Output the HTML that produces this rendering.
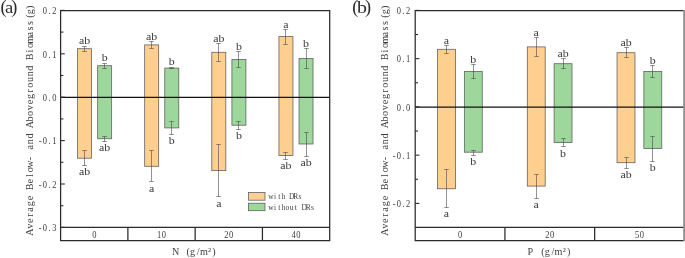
<!DOCTYPE html><html><head><meta charset="utf-8"><title>Figure</title><style>
html,body{margin:0;padding:0;background:#fff}svg{display:block;will-change:transform}
.m{font-family:"Liberation Serif","DejaVu Serif",serif;text-anchor:middle}
.s{font-family:"Liberation Serif","DejaVu Serif",serif;font-size:11px;text-anchor:middle;fill:#3a3a3a}
.L{font-family:"Liberation Serif","DejaVu Serif",serif;fill:#2a2a2a}
</style></head><body>
<svg width="685" height="258" viewBox="0 0 685 258">
<rect width="685" height="258" fill="#fff"/>
<rect x="77.55" y="48.7" width="14" height="109.5" fill="#ffcf90" stroke="#626262" stroke-width="0.8"/>
<path d="M84.5 46.5V51.5M82.2 46.5h4.6M82.2 51.5h4.6" stroke="#484848" stroke-width="0.6" fill="none"/>
<path d="M84.5 150.5V165.5M82.2 150.5h4.6M82.2 165.5h4.6" stroke="#484848" stroke-width="0.6" fill="none"/>
<text transform="translate(84.55 43.9) scale(1.08 1)" class="s">ab</text>
<text transform="translate(84.55 175.1) scale(1.08 1)" class="s">ab</text>
<rect x="97.65" y="65.7" width="14" height="73.05" fill="#9dd79c" stroke="#626262" stroke-width="0.8"/>
<path d="M104.5 63.5V68.5M102.2 63.5h4.6M102.2 68.5h4.6" stroke="#484848" stroke-width="0.6" fill="none"/>
<path d="M104.5 136.5V141.5M102.2 136.5h4.6M102.2 141.5h4.6" stroke="#484848" stroke-width="0.6" fill="none"/>
<text transform="translate(104.65 61.2) scale(1.08 1)" class="s">b</text>
<text transform="translate(104.65 151.1) scale(1.08 1)" class="s">ab</text>
<rect x="144.68" y="44.9" width="14" height="121.4" fill="#ffcf90" stroke="#626262" stroke-width="0.8"/>
<path d="M151.5 41.5V48.5M149.2 41.5h4.6M149.2 48.5h4.6" stroke="#484848" stroke-width="0.6" fill="none"/>
<path d="M151.5 150.5V181.5M149.2 150.5h4.6M149.2 181.5h4.6" stroke="#484848" stroke-width="0.6" fill="none"/>
<text transform="translate(151.68 40.2) scale(1.08 1)" class="s">ab</text>
<text transform="translate(151.68 191.5) scale(1.08 1)" class="s">a</text>
<rect x="164.78" y="68.1" width="14" height="59.8" fill="#9dd79c" stroke="#626262" stroke-width="0.8"/>
<path d="M171.5 67.5V68.5M169.2 67.5h4.6M169.2 68.5h4.6" stroke="#484848" stroke-width="0.6" fill="none"/>
<path d="M171.5 121.5V134.5M169.2 121.5h4.6M169.2 134.5h4.6" stroke="#484848" stroke-width="0.6" fill="none"/>
<text transform="translate(171.78 65.4) scale(1.08 1)" class="s">b</text>
<text transform="translate(171.78 144.1) scale(1.08 1)" class="s">b</text>
<rect x="211.81" y="52.3" width="14" height="118.3" fill="#ffcf90" stroke="#626262" stroke-width="0.8"/>
<path d="M218.5 43.5V61.5M216.2 43.5h4.6M216.2 61.5h4.6" stroke="#484848" stroke-width="0.6" fill="none"/>
<path d="M218.5 144.5V196.5M216.2 144.5h4.6M216.2 196.5h4.6" stroke="#484848" stroke-width="0.6" fill="none"/>
<text transform="translate(218.81 41.9) scale(1.08 1)" class="s">ab</text>
<text transform="translate(218.81 206.5) scale(1.08 1)" class="s">a</text>
<rect x="231.91" y="59.4" width="14" height="65.8" fill="#9dd79c" stroke="#626262" stroke-width="0.8"/>
<path d="M238.5 51.5V67.5M236.2 51.5h4.6M236.2 67.5h4.6" stroke="#484848" stroke-width="0.6" fill="none"/>
<path d="M238.5 121.5V129.5M236.2 121.5h4.6M236.2 129.5h4.6" stroke="#484848" stroke-width="0.6" fill="none"/>
<text transform="translate(238.91 49.7) scale(1.08 1)" class="s">b</text>
<text transform="translate(238.91 139.3) scale(1.08 1)" class="s">b</text>
<rect x="278.94" y="36.6" width="14" height="118.9" fill="#ffcf90" stroke="#626262" stroke-width="0.8"/>
<path d="M285.5 29.5V44.5M283.2 29.5h4.6M283.2 44.5h4.6" stroke="#484848" stroke-width="0.6" fill="none"/>
<path d="M285.5 152.5V159.5M283.2 152.5h4.6M283.2 159.5h4.6" stroke="#484848" stroke-width="0.6" fill="none"/>
<text transform="translate(285.94 27.7) scale(1.08 1)" class="s">a</text>
<text transform="translate(285.94 168.9) scale(1.08 1)" class="s">ab</text>
<rect x="299.04" y="58.4" width="14" height="85.6" fill="#9dd79c" stroke="#626262" stroke-width="0.8"/>
<path d="M306.5 48.5V68.5M304.2 48.5h4.6M304.2 68.5h4.6" stroke="#484848" stroke-width="0.6" fill="none"/>
<path d="M306.5 132.5V156.5M304.2 132.5h4.6M304.2 156.5h4.6" stroke="#484848" stroke-width="0.6" fill="none"/>
<text transform="translate(306.04 47.3) scale(1.08 1)" class="s">b</text>
<text transform="translate(306.04 165.9) scale(1.08 1)" class="s">ab</text>
<path d="M60.6 97.4H329.7" stroke="#111" stroke-width="1.1"/>
<path d="M60.6 10.6H329.7V240.5H60.6Z M60.6 227.3H329.7" stroke="#2b2b2b" stroke-width="1.25" fill="none"/>
<path d="M127.88 227.3V240.5" stroke="#2b2b2b" stroke-width="1.25"/>
<path d="M195.15 227.3V240.5" stroke="#2b2b2b" stroke-width="1.25"/>
<path d="M262.43 227.3V240.5" stroke="#2b2b2b" stroke-width="1.25"/>
<path d="M60.6 10.4h4.2" stroke="#2b2b2b" stroke-width="1.1"/>
<text transform="translate(56.6 14.1) scale(0.9 1)" x="-13.06 -7.83 -2.61" font-size="9.4" fill="#3d3d3d" class="m">0.2</text>
<path d="M60.6 53.8h4.2" stroke="#2b2b2b" stroke-width="1.1"/>
<text transform="translate(56.6 57.5) scale(0.9 1)" x="-13.06 -7.83 -2.61" font-size="9.4" fill="#3d3d3d" class="m">0.1</text>
<path d="M60.6 97.2h4.2" stroke="#2b2b2b" stroke-width="1.1"/>
<text transform="translate(56.6 100.9) scale(0.9 1)" x="-13.06 -7.83 -2.61" font-size="9.4" fill="#3d3d3d" class="m">0.0</text>
<path d="M60.6 140.6h4.2" stroke="#2b2b2b" stroke-width="1.1"/>
<text transform="translate(56.6 144.3) scale(0.9 1)" x="-18.28 -13.06 -7.83 -2.61" font-size="9.4" fill="#3d3d3d" class="m">-0.1</text>
<path d="M60.6 184h4.2" stroke="#2b2b2b" stroke-width="1.1"/>
<text transform="translate(56.6 187.7) scale(0.9 1)" x="-18.28 -13.06 -7.83 -2.61" font-size="9.4" fill="#3d3d3d" class="m">-0.2</text>
<path d="M60.6 227.4h4.2" stroke="#2b2b2b" stroke-width="1.1"/>
<text transform="translate(56.6 231.1) scale(0.9 1)" x="-18.28 -13.06 -7.83 -2.61" font-size="9.4" fill="#3d3d3d" class="m">-0.3</text>
<path d="M60.6 32.1h2.8" stroke="#2b2b2b" stroke-width="1.1"/>
<path d="M60.6 75.5h2.8" stroke="#2b2b2b" stroke-width="1.1"/>
<path d="M60.6 118.9h2.8" stroke="#2b2b2b" stroke-width="1.1"/>
<path d="M60.6 162.3h2.8" stroke="#2b2b2b" stroke-width="1.1"/>
<path d="M60.6 205.7h2.8" stroke="#2b2b2b" stroke-width="1.1"/>
<text transform="translate(94.24 237.6) scale(0.9 1)" x="0" font-size="9.4" fill="#3d3d3d" class="m">0</text>
<text transform="translate(161.51 237.6) scale(0.9 1)" x="-2.61 2.61" font-size="9.4" fill="#3d3d3d" class="m">10</text>
<text transform="translate(228.79 237.6) scale(0.9 1)" x="-2.61 2.61" font-size="9.4" fill="#3d3d3d" class="m">20</text>
<text transform="translate(296.06 237.6) scale(0.9 1)" x="-2.61 2.61" font-size="9.4" fill="#3d3d3d" class="m">40</text>
<text transform="translate(195.45 255) scale(0.9 1)" x="-21.97" font-size="11.3" fill="#3d3d3d" class="m">N</text><text transform="translate(195.45 255) scale(0.9 1)" x="-8.04 -3.14 3.14 9.42 15.69 20.59" font-size="11.3" fill="#3d3d3d" class="m">(g/m²)</text>
<text transform="translate(33.3 234.8) rotate(-90) scale(0.9 1)" x="3.14 9.42 15.69 21.97 28.25 34.53 40.81" font-size="11.3" fill="#3d3d3d" class="m">Average</text><text transform="translate(33.3 234.8) rotate(-90) scale(0.9 1)" x="53.36 59.64 65.92 72.19 78.47 84.75" font-size="11.3" fill="#3d3d3d" class="m">Below-</text><text transform="translate(33.3 234.8) rotate(-90) scale(0.9 1)" x="97.31 103.58 109.86" font-size="11.3" fill="#3d3d3d" class="m">and</text><text transform="translate(33.3 234.8) rotate(-90) scale(0.9 1)" x="122.42 128.69 134.97 141.25 147.53 153.81 160.08 166.36 172.64 178.92 185.19" font-size="11.3" fill="#3d3d3d" class="m">Aboveground</text><text transform="translate(33.3 234.8) rotate(-90) scale(0.9 1)" x="197.75 204.03 210.31 216.58 222.86 229.14 235.42 243.08 247.97 252.87" font-size="11.3" fill="#3d3d3d" class="m">Biomass(g)</text>
<text class="L"><tspan x="0.4" y="13.1" font-size="18.3" text-anchor="start">(</tspan></text>
<text class="L" transform="translate(9.2 13.2) scale(1.12 1)" font-size="16.6" text-anchor="middle">a</text>
<text class="L"><tspan x="17.4" y="13.1" font-size="18.3" text-anchor="end">)</tspan></text>
<rect x="437.55" y="49.3" width="17.9" height="139.45" fill="#ffcf90" stroke="#626262" stroke-width="0.8"/>
<path d="M446.5 45.5V53.5M444.2 45.5h4.6M444.2 53.5h4.6" stroke="#484848" stroke-width="0.6" fill="none"/>
<path d="M446.5 169.5V207.5M444.2 169.5h4.6M444.2 207.5h4.6" stroke="#484848" stroke-width="0.6" fill="none"/>
<text transform="translate(446.5 43.7) scale(1.08 1)" class="s">a</text>
<text transform="translate(446.5 217.3) scale(1.08 1)" class="s">a</text>
<rect x="464.35" y="71.5" width="17.9" height="80.7" fill="#9dd79c" stroke="#626262" stroke-width="0.8"/>
<path d="M473.5 64.5V78.5M471.2 64.5h4.6M471.2 78.5h4.6" stroke="#484848" stroke-width="0.6" fill="none"/>
<path d="M473.5 150.5V155.5M471.2 150.5h4.6M471.2 155.5h4.6" stroke="#484848" stroke-width="0.6" fill="none"/>
<text transform="translate(473.3 62.7) scale(1.08 1)" class="s">b</text>
<text transform="translate(473.3 165.2) scale(1.08 1)" class="s">b</text>
<rect x="527.3" y="46.9" width="17.9" height="139.2" fill="#ffcf90" stroke="#626262" stroke-width="0.8"/>
<path d="M536.5 37.5V56.5M534.2 37.5h4.6M534.2 56.5h4.6" stroke="#484848" stroke-width="0.6" fill="none"/>
<path d="M536.5 174.5V198.5M534.2 174.5h4.6M534.2 198.5h4.6" stroke="#484848" stroke-width="0.6" fill="none"/>
<text transform="translate(536.25 35.8) scale(1.08 1)" class="s">a</text>
<text transform="translate(536.25 208.2) scale(1.08 1)" class="s">a</text>
<rect x="554.1" y="63.7" width="17.9" height="78.8" fill="#9dd79c" stroke="#626262" stroke-width="0.8"/>
<path d="M563.5 58.5V68.5M561.2 58.5h4.6M561.2 68.5h4.6" stroke="#484848" stroke-width="0.6" fill="none"/>
<path d="M563.5 138.5V146.5M561.2 138.5h4.6M561.2 146.5h4.6" stroke="#484848" stroke-width="0.6" fill="none"/>
<text transform="translate(563.05 57) scale(1.08 1)" class="s">ab</text>
<text transform="translate(563.05 156.5) scale(1.08 1)" class="s">b</text>
<rect x="617.05" y="52.7" width="17.9" height="110" fill="#ffcf90" stroke="#626262" stroke-width="0.8"/>
<path d="M626.5 47.5V57.5M624.2 47.5h4.6M624.2 57.5h4.6" stroke="#484848" stroke-width="0.6" fill="none"/>
<path d="M626.5 157.5V168.5M624.2 157.5h4.6M624.2 168.5h4.6" stroke="#484848" stroke-width="0.6" fill="none"/>
<text transform="translate(626 46.3) scale(1.08 1)" class="s">ab</text>
<text transform="translate(626 178.3) scale(1.08 1)" class="s">ab</text>
<rect x="643.85" y="71.5" width="17.9" height="77" fill="#9dd79c" stroke="#626262" stroke-width="0.8"/>
<path d="M652.5 65.5V77.5M650.2 65.5h4.6M650.2 77.5h4.6" stroke="#484848" stroke-width="0.6" fill="none"/>
<path d="M652.5 136.5V161.5M650.2 136.5h4.6M650.2 161.5h4.6" stroke="#484848" stroke-width="0.6" fill="none"/>
<text transform="translate(652.8 63.5) scale(1.08 1)" class="s">b</text>
<text transform="translate(652.8 170.6) scale(1.08 1)" class="s">b</text>
<path d="M415.2 107.1H684.4" stroke="#111" stroke-width="1.1"/>
<path d="M684.4 10.6H415.2V240.5H684.4 M415.2 227.3H684.4" stroke="#2b2b2b" stroke-width="1.25" fill="none"/>
<rect x="683.2" y="10" width="1.8" height="231.1" fill="#8f8f8f"/>
<path d="M504.93 227.3V240.5" stroke="#2b2b2b" stroke-width="1.25"/>
<path d="M594.67 227.3V240.5" stroke="#2b2b2b" stroke-width="1.25"/>
<path d="M415.2 10.4h4.2" stroke="#2b2b2b" stroke-width="1.1"/>
<text transform="translate(410.5 14.1) scale(0.9 1)" x="-13.06 -7.83 -2.61" font-size="9.4" fill="#3d3d3d" class="m">0.2</text>
<path d="M415.2 58.65h4.2" stroke="#2b2b2b" stroke-width="1.1"/>
<text transform="translate(410.5 62.35) scale(0.9 1)" x="-13.06 -7.83 -2.61" font-size="9.4" fill="#3d3d3d" class="m">0.1</text>
<path d="M415.2 106.9h4.2" stroke="#2b2b2b" stroke-width="1.1"/>
<text transform="translate(410.5 110.6) scale(0.9 1)" x="-13.06 -7.83 -2.61" font-size="9.4" fill="#3d3d3d" class="m">0.0</text>
<path d="M415.2 155.15h4.2" stroke="#2b2b2b" stroke-width="1.1"/>
<text transform="translate(410.5 158.85) scale(0.9 1)" x="-18.28 -13.06 -7.83 -2.61" font-size="9.4" fill="#3d3d3d" class="m">-0.1</text>
<path d="M415.2 203.4h4.2" stroke="#2b2b2b" stroke-width="1.1"/>
<text transform="translate(410.5 207.1) scale(0.9 1)" x="-18.28 -13.06 -7.83 -2.61" font-size="9.4" fill="#3d3d3d" class="m">-0.2</text>
<path d="M415.2 34.53h2.8" stroke="#2b2b2b" stroke-width="1.1"/>
<path d="M415.2 82.78h2.8" stroke="#2b2b2b" stroke-width="1.1"/>
<path d="M415.2 131.03h2.8" stroke="#2b2b2b" stroke-width="1.1"/>
<path d="M415.2 179.28h2.8" stroke="#2b2b2b" stroke-width="1.1"/>
<text transform="translate(460.07 237.6) scale(0.9 1)" x="0" font-size="9.4" fill="#3d3d3d" class="m">0</text>
<text transform="translate(549.8 237.6) scale(0.9 1)" x="-2.61 2.61" font-size="9.4" fill="#3d3d3d" class="m">20</text>
<text transform="translate(639.53 237.6) scale(0.9 1)" x="-2.61 2.61" font-size="9.4" fill="#3d3d3d" class="m">50</text>
<text transform="translate(550.1 255) scale(0.9 1)" x="-21.97" font-size="11.3" fill="#3d3d3d" class="m">P</text><text transform="translate(550.1 255) scale(0.9 1)" x="-8.04 -3.14 3.14 9.42 15.69 20.59" font-size="11.3" fill="#3d3d3d" class="m">(g/m²)</text>
<text transform="translate(388 234.8) rotate(-90) scale(0.9 1)" x="3.14 9.42 15.69 21.97 28.25 34.53 40.81" font-size="11.3" fill="#3d3d3d" class="m">Average</text><text transform="translate(388 234.8) rotate(-90) scale(0.9 1)" x="53.36 59.64 65.92 72.19 78.47 84.75" font-size="11.3" fill="#3d3d3d" class="m">Below-</text><text transform="translate(388 234.8) rotate(-90) scale(0.9 1)" x="97.31 103.58 109.86" font-size="11.3" fill="#3d3d3d" class="m">and</text><text transform="translate(388 234.8) rotate(-90) scale(0.9 1)" x="122.42 128.69 134.97 141.25 147.53 153.81 160.08 166.36 172.64 178.92 185.19" font-size="11.3" fill="#3d3d3d" class="m">Aboveground</text><text transform="translate(388 234.8) rotate(-90) scale(0.9 1)" x="197.75 204.03 210.31 216.58 222.86 229.14 235.42 243.08 247.97 252.87" font-size="11.3" fill="#3d3d3d" class="m">Biomass(g)</text>
<text class="L"><tspan x="352.2" y="13.1" font-size="18.3" text-anchor="start">(</tspan></text>
<text class="L" transform="translate(361.9 13.2) scale(1.2 1)" font-size="16.6" text-anchor="middle">b</text>
<text class="L"><tspan x="371" y="13.1" font-size="18.3" text-anchor="end">)</tspan></text>
<rect x="248.4" y="192.5" width="16.6" height="7.7" fill="#ffcf90" stroke="#626262" stroke-width="0.8"/>
<rect x="248.4" y="203.2" width="16.6" height="7.5" fill="#9dd79c" stroke="#626262" stroke-width="0.8"/>
<text transform="translate(268.8 199.2) scale(0.9 1)" x="2.31 6.92 11.53 16.14" font-size="8.3" fill="#3d3d3d" class="m">with</text><text transform="translate(268.8 199.2) scale(0.9 1)" x="25.36 29.97 34.58" font-size="8.3" fill="#3d3d3d" class="m">DRs</text>
<text transform="translate(268.8 209.6) scale(0.9 1)" x="2.31 6.92 11.53 16.14 20.75 25.36 29.97" font-size="8.3" fill="#3d3d3d" class="m">without</text><text transform="translate(268.8 209.6) scale(0.9 1)" x="39.19 43.81 48.42" font-size="8.3" fill="#3d3d3d" class="m">DRs</text>
</svg></body></html>
